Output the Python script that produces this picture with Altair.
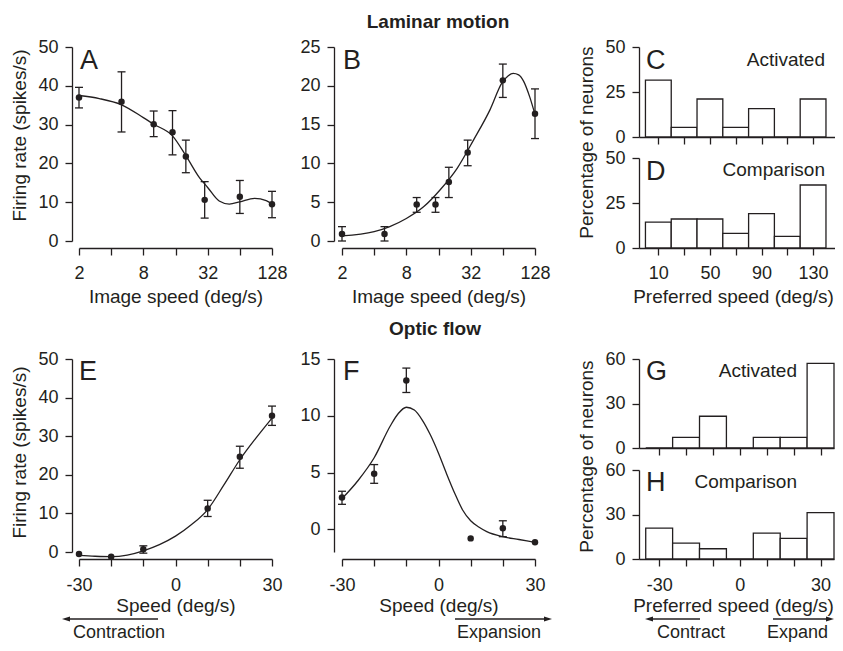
import altair as alt
import pandas as pd

FONT = "Liberation Sans"
INK = "#231f20"
W = 827
H = 635

# ---------------- Laminar motion: speed tuning (panels A, B) ----------------
lam_speed = [2, 5, 10, 15, 20, 30, 64, 128]

a_rate = [37.0, 35.9, 30.1, 28.0, 21.8, 10.6, 11.4, 9.5]
a_hi = [39.6, 43.6, 33.5, 33.6, 26.0, 15.3, 15.6, 12.8]
a_lo = [34.3, 28.1, 26.9, 22.2, 17.6, 5.9, 7.1, 6.0]
a_fit_speed = [2, 3.1, 5, 8, 10, 15, 20, 27, 32, 41, 51, 64, 88, 113, 128]
a_fit_rate = [37.5, 36.7, 35.1, 31.8, 30.1, 27.1, 22.0, 16.2, 13.8, 10.3, 9.5, 10.1, 11.0, 10.4, 9.5]

b_rate = [0.9, 0.9, 4.7, 4.7, 7.6, 11.4, 20.7, 16.4]
b_hi = [1.85, 1.85, 5.6, 5.6, 9.5, 13.0, 22.8, 19.6]
b_lo = [0.0, 0.0, 3.7, 3.7, 5.6, 9.7, 18.5, 13.2]
b_fit_speed = [2, 4, 5.6, 8, 11.6, 16.6, 24, 34, 48.5, 63, 72, 80, 90, 100, 114, 128]
b_fit_rate = [0.65, 1.2, 1.85, 2.9, 4.4, 6.6, 9.4, 13.0, 16.9, 20.4, 21.3, 21.6, 21.4, 20.6, 18.6, 16.3]

# ---------------- Optic flow: speed tuning (panels E, F) ----------------
flow_speed = [-30, -20, -10, 10, 20, 30]

e_rate = [-0.5, -1.2, 0.7, 11.3, 24.7, 35.3]
e_hi = [None, None, 1.6, 13.4, 27.4, 37.8]
e_lo = [None, None, -0.3, 9.2, 21.7, 32.8]
e_fit_speed = [-30, -25, -20, -15, -10, -5, 0, 5, 10, 15, 20, 25, 30]
e_fit_rate = [-0.9, -1.1, -1.2, -0.8, 0.3, 1.9, 4.1, 7.1, 11.0, 17.3, 23.9, 29.5, 34.7]

f_rate = [2.8, 4.9, 13.1, -0.8, 0.1, -1.15]
f_hi = [3.35, 5.7, 14.2, None, 0.75, None]
f_lo = [2.2, 4.05, 12.05, None, -0.65, None]
f_fit_speed = [-30, -25, -20, -15, -12.5, -10, -7.5, -5, -2.5, 0, 2.5, 5, 7.5, 10, 12.5, 15, 20, 25, 30]
f_fit_rate = [2.7, 4.3, 6.3, 9.1, 10.2, 10.75, 10.5, 9.6, 8.3, 6.7, 4.9, 3.2, 1.7, 0.75, 0.2, -0.2, -0.65, -0.9, -1.15]

# ---------------- Preferred-speed histograms (C, D, G, H) ----------------
lam_bin_start = [0, 20, 40, 60, 80, 100, 120]
lam_bin_end = [20, 40, 60, 80, 100, 120, 140]
c_pct = [31.6, 5.3, 21.1, 5.3, 15.8, 0, 21.1]
d_pct = [14.4, 16.1, 16.1, 8.1, 19.1, 6.5, 35.0]

flow_bin_start = [-35, -25, -15, -5, 5, 15, 25]
flow_bin_end = [-25, -15, -5, 5, 15, 25, 35]
g_pct = [0, 7.1, 21.4, 0, 7.1, 7.1, 57.1]
h_pct = [20.8, 10.7, 6.9, 0, 17.4, 13.9, 31.3]

# tick values
lam_ticks = [2, 4, 8, 16, 32, 64, 128]
flow_ticks = [-30, -20, -10, 0, 10, 20, 30]
pref_lam_ticks = [10, 30, 50, 70, 90, 110, 130]


def yaxis(values, pos_x, title=None, title_y=None):
    kw = dict(orient="left", values=values, offset=-pos_x, labelPadding=7)
    if title:
        kw.update(title=title, titleX=-43, titleY=title_y)
    else:
        kw["title"] = None
    return alt.Axis(**kw)


def xaxis(values, pos_y, title=None, label_expr=None, label_off=30, title_off=54, title_x=None):
    kw = dict(orient="bottom", values=values, offset=pos_y - H, labelFlush=False,
              labelOverlap=False, labelBaseline="alphabetic", labelPadding=label_off - 7)
    if label_expr:
        kw["labelExpr"] = label_expr
    else:
        kw["labels"] = False
    if title:
        kw.update(title=title, titleBaseline="alphabetic", titleY=title_off)
        if title_x is not None:
            kw["titleX"] = title_x
    else:
        kw["title"] = None
    return alt.Axis(**kw)


def lin(domain, rng):
    return alt.Scale(domain=domain, range=rng, nice=False, zero=False)


def log2(domain, rng):
    return alt.Scale(type="log", base=2, domain=domain, range=rng, nice=False)


def tuning_panel(px, py, lo, hi, fx, fy, xsc, ysc, xax, yax):
    pts = pd.DataFrame({"s": px, "r": py, "lo": lo, "hi": hi})
    fit = pd.DataFrame({"s": fx, "r": fy})
    X = alt.X("s:Q", scale=xsc, axis=xax)
    line = alt.Chart(fit).mark_line(color=INK, strokeWidth=1.3, interpolate="monotone").encode(
        x=X, y=alt.Y("r:Q", scale=ysc, axis=yax))
    err = alt.Chart(pts).mark_rule(color=INK, strokeWidth=1.3).encode(
        x=X, y=alt.Y("lo:Q", scale=ysc, axis=yax), y2="hi:Q")
    cap_lo = alt.Chart(pts).mark_tick(color=INK, orient="horizontal", size=8, thickness=1.3, opacity=1).encode(
        x=X, y=alt.Y("lo:Q", scale=ysc, axis=yax))
    cap_hi = alt.Chart(pts).mark_tick(color=INK, orient="horizontal", size=8, thickness=1.3, opacity=1).encode(
        x=X, y=alt.Y("hi:Q", scale=ysc, axis=yax))
    dots = alt.Chart(pts).mark_circle(color=INK, size=42, opacity=1).encode(
        x=X, y=alt.Y("r:Q", scale=ysc, axis=yax))
    return alt.layer(line, err, cap_lo, cap_hi, dots)


def hist_panel(start, end, pct, xsc, ysc, xax, yax):
    df = pd.DataFrame({"a": start, "b": end, "p": pct})
    return alt.Chart(df).mark_bar(fill="white", stroke=INK, strokeWidth=1.3).encode(
        x=alt.X("a:Q", scale=xsc, axis=xax), x2="b:Q",
        y=alt.Y("p:Q", scale=ysc, axis=yax), y2=alt.datum(0))


LOG_LABELS = "indexof([2, 8, 32, 128], datum.value) >= 0 ? '' + datum.value : ''"
FLOW_LABELS = "datum.value % 30 == 0 ? '' + datum.value : ''"
PREF_LABELS = "(datum.value - 10) % 40 == 0 ? '' + datum.value : ''"

panel_a = tuning_panel(
    lam_speed, a_rate, a_lo, a_hi, a_fit_speed, a_fit_rate,
    log2([2, 128], [71, 264]), lin([0, 50], [233, 39]),
    xaxis(lam_ticks, 240, "Image speed (deg/s)", LOG_LABELS),
    yaxis([0, 10, 20, 30, 40, 50], 64, "Firing rate (spikes/s)", 127))

panel_b = tuning_panel(
    lam_speed, b_rate, b_lo, b_hi, b_fit_speed, b_fit_rate,
    log2([2, 128], [334, 527]), lin([0, 25], [233, 39]),
    xaxis(lam_ticks, 240, "Image speed (deg/s)", LOG_LABELS),
    yaxis([0, 5, 10, 15, 20, 25], 326))

panel_e = tuning_panel(
    flow_speed, e_rate, e_lo, e_hi, e_fit_speed, e_fit_rate,
    lin([-30, 30], [71, 264]), lin([0, 50], [544, 351]),
    xaxis(flow_ticks, 551, "Speed (deg/s)", FLOW_LABELS, 31, 52),
    yaxis([0, 10, 20, 30, 40, 50], 64, "Firing rate (spikes/s)", 444))

panel_f = tuning_panel(
    flow_speed, f_rate, f_lo, f_hi, f_fit_speed, f_fit_rate,
    lin([-30, 30], [334, 527]), lin([-2, 15], [544, 351]),
    xaxis(flow_ticks, 551, "Speed (deg/s)", FLOW_LABELS, 31, 52),
    yaxis([0, 5, 10, 15], 326))

panel_c = hist_panel(
    lam_bin_start, lam_bin_end, c_pct,
    lin([-5, 147], [631, 827]), lin([0, 50], [129, 39]),
    xaxis(pref_lam_ticks, 129),
    yaxis([0, 25, 50], 631, "Percentage of neurons", 134))

panel_d = hist_panel(
    lam_bin_start, lam_bin_end, d_pct,
    lin([-5, 147], [631, 827]), lin([0, 50], [240, 150]),
    xaxis(pref_lam_ticks, 240, "Preferred speed (deg/s)", PREF_LABELS, title_x=725),
    yaxis([0, 25, 50], 631))

panel_g = hist_panel(
    flow_bin_start, flow_bin_end, g_pct,
    lin([-37.5, 35], [631, 826]), lin([0, 60], [440, 351]),
    xaxis(flow_ticks, 440),
    yaxis([0, 30, 60], 631, "Percentage of neurons", 448))

panel_h = hist_panel(
    flow_bin_start, flow_bin_end, h_pct,
    lin([-37.5, 35], [631, 826]), lin([0, 60], [551, 462]),
    xaxis(flow_ticks, 551, "Preferred speed (deg/s)", FLOW_LABELS, 31, 52, title_x=725),
    yaxis([0, 30, 60], 631))

# ---------------- annotations ----------------
blank = alt.Data(values=[{}])


def label(text, x, y, size=19, align="left", weight="normal"):
    return alt.Chart(blank).mark_text(
        text=text, align=align, baseline="alphabetic", fontSize=size,
        font=FONT, fontWeight=weight, color=INK).encode(x=alt.value(x), y=alt.value(y))


def arrow_line(x1, x2, y):
    return alt.Chart(blank).mark_rule(color=INK, strokeWidth=1.3).encode(
        x=alt.value(x1), x2=alt.value(x2), y=alt.value(y))


def arrow_head(x, y, direction):
    shape = "M -1 0 L 1 -0.6 L 1 0.6 Z" if direction == "left" else "M 1 0 L -1 -0.6 L -1 0.6 Z"
    return alt.Chart(blank).mark_point(shape=shape, filled=True, size=64, color=INK, opacity=1,
                                       strokeWidth=0).encode(x=alt.value(x), y=alt.value(y))


ARROW_Y = 611
ARROW_TEXT_Y = 630
AS = 18

annots = [
    label("Laminar motion", 430, 20, 19, "center", "bold"),
    label("Optic flow", 427, 327, 19, "center", "bold"),
    label("A", 72, 61, 27), label("B", 335, 61, 27),
    label("C", 638, 61, 27), label("D", 638, 172, 27),
    label("E", 71, 372, 27), label("F", 335, 372, 27),
    label("G", 638, 372, 27), label("H", 638, 483, 27),
    label("Activated", 817, 58, 19, "right"),
    label("Comparison", 817, 168, 19, "right"),
    label("Activated", 789, 369, 19, "right"),
    label("Comparison", 789, 480, 19, "right"),
    arrow_line(58, 150, ARROW_Y), arrow_head(58, ARROW_Y, "left"), label("Contraction", 65, ARROW_TEXT_Y, AS),
    arrow_line(447, 540, ARROW_Y), arrow_head(540, ARROW_Y, "right"), label("Expansion", 449, ARROW_TEXT_Y, AS),
    arrow_line(641, 692, ARROW_Y), arrow_head(641, ARROW_Y, "left"), label("Contract", 649, ARROW_TEXT_Y, AS),
    arrow_line(765, 822, ARROW_Y), arrow_head(822, ARROW_Y, "right"), label("Expand", 759, ARROW_TEXT_Y, AS),
]

chart = (
    alt.layer(panel_a, panel_b, panel_c, panel_d, panel_e, panel_f, panel_g, panel_h, *annots)
    .resolve_scale(x="independent", y="independent")
    .resolve_axis(x="independent", y="independent")
    .properties(width=W, height=H, autosize=alt.AutoSizeParams(type="none"), padding=0)
    .configure_view(stroke=None)
    .configure_axis(
        domainColor=INK, domainWidth=1.3, tickColor=INK, tickWidth=1.3, tickSize=7,
        labelFont=FONT, labelFontSize=18, labelColor=INK,
        titleFont=FONT, titleFontSize=19, titleFontWeight="normal", titleColor=INK,
        grid=False)
)

chart.save("out.html", embed_options={"renderer": "svg", "actions": False})
